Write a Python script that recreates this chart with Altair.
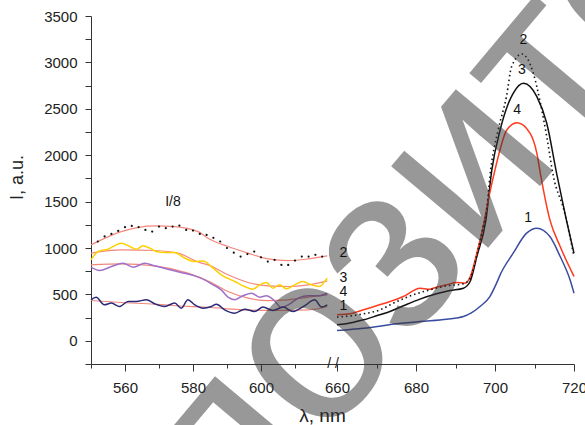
import altair as alt
import pandas as pd

# ---------------- data ----------------
# left window (550-620 nm), curves shown as I/8
lam_c2_dots = [552, 554, 556, 558, 560, 562, 564, 566, 568, 570, 572, 574, 576, 578, 580, 582, 584,
               586, 588, 590, 592, 594, 596, 598, 600, 602, 604, 606, 608, 610, 612, 614, 616, 618]
c2_dots = [1070, 1124, 1152, 1184, 1224, 1238, 1224, 1195, 1177, 1231, 1213, 1231, 1242, 1195, 1188, 1152, 1141,
           1110, 1070, 1000, 950, 908, 935, 962, 900, 854, 872, 818, 818, 865, 908, 908, 926, 908]
lam_c2_fit = [550, 558.9, 568.7, 574.6, 581.5, 584.4, 590.3, 596.2, 602.1, 608, 613.9, 619.5]
c2_fit = [1034, 1177, 1238, 1231, 1177, 1106, 1016, 944, 883, 865, 883, 915]

lam_c3_left = [550, 552.1, 555, 558.9, 561.4, 563.3, 565.3, 567.3, 569.2, 571.7, 574.6, 577.6, 580.5, 583,
               585.4, 588.3, 592.3, 595.2, 597.6, 599.6, 601.6, 603.5, 605.5, 607.5, 609.9, 612.3, 614.8,
               617.3, 618.7, 619.5]
c3_left = [872, 962, 987, 1052, 1016, 987, 1023, 998, 962, 951, 951, 890, 854, 860,
           800, 711, 639, 585, 556, 603, 628, 567, 603, 560, 603, 639, 603, 585, 639, 675]
lam_c3_fit = [550, 558.9, 568.7, 575.6, 582.5, 584.4, 590.3, 596.2, 602.1, 608, 613.9, 619.5]
c3_fit = [944, 980, 973, 944, 837, 818, 711, 628, 592, 585, 603, 646]

lam_c4_left = [550, 552.5, 556, 559.4, 562.4, 565.8, 568.7, 572.6, 576.5, 580.5, 583.4, 585.4, 588.3, 590.3,
               592.3, 594.2, 597.2, 599.6, 601.6, 604, 606, 608, 611, 613.9, 616.8, 619.5]
c4_left = [793, 757, 800, 836, 793, 836, 808, 772, 736, 700, 657, 614, 549, 470,
           442, 477, 513, 470, 485, 430, 358, 388, 460, 485, 485, 513]
lam_c4_fit = [550, 558.9, 568.7, 578.5, 585.4, 590.3, 596.2, 602.1, 608, 613.9, 619.5]
c4_fit = [818, 829, 808, 729, 628, 531, 460, 434, 442, 470, 495]

lam_c1_left = [550, 551.5, 553.9, 556, 558.4, 560.9, 563.3, 566.3, 568.7, 571.7, 574.6, 576.6, 578.5, 580.5,
               583, 585.4, 586.9, 589.3, 592.3, 595.2, 598.1, 600.6, 603.5, 606.5, 609.4, 612.8, 615.8,
               617.8, 619.5]
c1_left = [442, 470, 388, 406, 370, 424, 424, 442, 399, 370, 406, 352, 442, 388,
           352, 370, 395, 334, 298, 341, 316, 363, 327, 363, 316, 377, 442, 363, 388]
lam_c1_fit = [550, 558.9, 568.7, 578.5, 585.4, 590.3, 602.1, 613.9, 619.5]
c1_fit = [434, 413, 395, 370, 359, 345, 327, 334, 370]

# right window (660-720 nm)
lam_c1_right = [660, 666.7, 675.2, 681, 687.8, 692, 694, 696.2, 698.7, 700.4, 701.3, 704.6, 708, 710.6,
                713.9, 716.5, 719, 720]
c1_right = [111, 136, 183, 208, 233, 262, 300, 369, 477, 621, 711, 944, 1160, 1213,
            1123, 908, 657, 513]
lam_c2_right = [660, 666.7, 670.9, 675, 679.3, 683.5, 687.8, 692, 693.7, 695.4, 697, 697.9, 698.7, 700.8,
                702.9, 704.2, 706.8, 709.7, 711.5, 713.1, 714.8, 717.5, 720]
c2_right = [255, 290, 334, 420, 495, 549, 592, 614, 675, 926, 1231, 1411, 1769, 2272,
            2631, 2954, 3091, 2883, 2560, 2200, 1769, 1400, 908]
lam_c3_right = [660, 664, 666.7, 670, 673.4, 676.8, 681, 685.2, 688.6, 692, 693.7, 695.4, 697.7, 699.2,
                701.3, 703.4, 704.6, 707.2, 710.6, 713.1, 715.6, 717.7, 720]
c3_right = [172, 197, 226, 269, 316, 377, 449, 506, 542, 567, 639, 908, 1303, 1842,
            2272, 2560, 2667, 2775, 2631, 2344, 1805, 1375, 944]
lam_c4_right = [660, 664, 666.7, 670, 673.4, 676.8, 681, 683.5, 685.2, 687.8, 690.3, 692.4, 693.7, 695.4,
                697, 698.3, 700, 703, 705.6, 708.9, 710.6, 711.5, 713.9, 716.5, 720]
c4_right = [280, 298, 334, 377, 423, 477, 567, 556, 578, 603, 628, 621, 686, 944,
            1231, 1518, 1842, 2272, 2351, 2236, 2020, 1800, 1303, 1016, 693]

# axis ticks
x_ticks_left = [550, 560, 570, 580, 590, 600, 610]
x_ticks_right = [660, 670, 680, 690, 700, 710, 720]
x_labels = [560, 580, 600, 660, 680, 700, 720]
y_ticks = [-250, 0, 250, 500, 750, 1000, 1250, 1500, 1750, 2000, 2250, 2500, 2750, 3000, 3250, 3500]

# annotations
ann_text = ["I/8", "2", "3", "4", "1", "2", "3", "4", "1"]
ann_lam = [574.1, 661.6, 661.6, 661.6, 661.6, 707.2, 706.8, 705.6, 708.4]
ann_v = [1497, 943, 675, 531, 377, 3241, 2918, 2488, 1321]

watermark_text = "репозиторий"
watermark_lam = [692.9]
watermark_v = [1937]

# ---------------- broken x axis mapping ----------------
LEFT_PX, RIGHT_START, RIGHT_PX = 3.4, 246, 3.95
W, H = 483, 348


def pos(lam):
    return (lam - 550) * LEFT_PX if lam <= 640 else RIGHT_START + (lam - 660) * RIGHT_PX


calc = f"datum.lam <= 640 ? (datum.lam - 550) * {LEFT_PX} : {RIGHT_START} + (datum.lam - 660) * {RIGHT_PX}"

tick_vals = [round(pos(t), 3) for t in x_ticks_left + x_ticks_right]
major_vals = [round(pos(t), 3) for t in x_labels]
label_expr = " : ".join(f"abs(datum.value - {p}) < 0.01 ? '{l}'" for p, l in zip(major_vals, x_labels)) + " : ''"
major_test = " || ".join(f"abs(datum.value - {p}) < 0.01" for p in major_vals)

FONT = "Liberation Sans"

x_enc = alt.X(
    "xp:Q",
    scale=alt.Scale(domain=[0, W], nice=False, zero=False),
    axis=alt.Axis(
        values=tick_vals, labelExpr=label_expr, grid=False,
        tickSize={"condition": {"test": major_test, "value": 7}, "value": 4},
        domainColor="#333", tickColor="#333", labelColor="#222", labelFont=FONT, labelFontSize=15,
        labelPadding=9, labelFlush=False, labelOverlap=False,
        title="λ, nm", titleFont=FONT, titleFontSize=19, titleFontWeight="normal", titleColor="#222",
        titleX=231, titleY=51, titleBaseline="middle", titleAlign="center", titleAnchor="start",
    ),
)
y_enc = alt.Y(
    "v:Q",
    scale=alt.Scale(domain=[-250, 3500], nice=False, zero=False),
    axis=alt.Axis(
        values=y_ticks, format="d",
        labelExpr="datum.value % 500 == 0 ? datum.label : ''",
        grid=False, tickSize=6, domainColor="#333", tickColor="#333", labelColor="#222",
        labelFont=FONT, labelFontSize=15, labelPadding=8, labelFlush=False, labelOverlap=False,
        title="I, a.u.", titleFont=FONT, titleFontSize=18, titleFontWeight="normal", titleColor="#222",
        titleAngle=270, titleX=-74, titleY=161, titleBaseline="middle", titleAlign="center",
        titleAnchor="start",
    ),
)


def frame(name, lams, vals):
    return pd.DataFrame({"lam": lams, "v": vals, "name": name})


fits = pd.concat([frame("f2", lam_c2_fit, c2_fit), frame("f3", lam_c3_fit, c3_fit),
                  frame("f4", lam_c4_fit, c4_fit), frame("f1", lam_c1_fit, c1_fit)])
wavy = pd.concat([frame("L3", lam_c3_left, c3_left), frame("L4", lam_c4_left, c4_left),
                  frame("L1", lam_c1_left, c1_left)])
right_solid = pd.concat([frame("R1", lam_c1_right, c1_right), frame("R3", lam_c3_right, c3_right),
                         frame("R4", lam_c4_right, c4_right)])
right_dot = frame("R2", lam_c2_right, c2_right)
dots = frame("D2", lam_c2_dots, c2_dots)
ann = pd.DataFrame({"lam": ann_lam, "v": ann_v, "t": ann_text})
wm = pd.DataFrame({"lam": watermark_lam, "v": watermark_v, "t": [watermark_text]})
brk = pd.DataFrame({"lam": [621.2], "v": [-250], "t": ["/ /"]})

color_scale = alt.Scale(
    domain=["L3", "L4", "L1", "R1", "R3", "R4"],
    range=["#FFD000", "#A070C8", "#2B2A78", "#3A4CA0", "#111111", "#FF3A1E"],
)

fit_layer = alt.Chart(fits).transform_calculate(xp=calc).mark_line(
    color="#F2877C", strokeWidth=1.2, interpolate="monotone"
).encode(x=x_enc, y=y_enc, detail="name:N")

wavy_layer = alt.Chart(wavy).transform_calculate(xp=calc).mark_line(
    strokeWidth=1.5, interpolate="monotone"
).encode(x=x_enc, y=y_enc, color=alt.Color("name:N", scale=color_scale, legend=None))

right_layer = alt.Chart(right_solid).transform_calculate(xp=calc).mark_line(
    strokeWidth=1.5, interpolate="monotone"
).encode(x=x_enc, y=y_enc, color=alt.Color("name:N", scale=color_scale, legend=None))

dot_line = alt.Chart(right_dot).transform_calculate(xp=calc).mark_line(
    color="#111111", strokeWidth=1.6, strokeDash=[1.5, 3], interpolate="monotone"
).encode(x=x_enc, y=y_enc)

dot_pts = alt.Chart(dots).transform_calculate(xp=calc).mark_circle(
    color="#111111", size=5, opacity=1
).encode(x=x_enc, y=y_enc)

wm_layer = alt.Chart(wm).transform_calculate(xp=calc).mark_text(
    font=FONT, fontSize=240, fontWeight="normal", color="#333333", opacity=0.5,
    angle=310, align="center", baseline="middle"
).encode(x=x_enc, y=y_enc, text="t:N")

ann_layer = alt.Chart(ann).transform_calculate(xp=calc).mark_text(
    font=FONT, fontSize=14, color="#111111", align="center", baseline="middle"
).encode(x=x_enc, y=y_enc, text="t:N")

brk_layer = alt.Chart(brk).transform_calculate(xp=calc).mark_text(
    font=FONT, fontSize=14, color="#222222", align="center", baseline="middle"
).encode(x=x_enc, y=y_enc, text="t:N")

chart = alt.layer(
    fit_layer, wavy_layer, right_layer, dot_line, dot_pts, wm_layer, ann_layer, brk_layer
).properties(
    width=W, height=H,
    padding={"left": 91, "top": 16, "right": 11, "bottom": 61},
    autosize=alt.AutoSizeParams(type="none"),
    background="white",
).configure_view(stroke=None)

chart.save("out.html", embed_options={"renderer": "svg", "actions": False})
